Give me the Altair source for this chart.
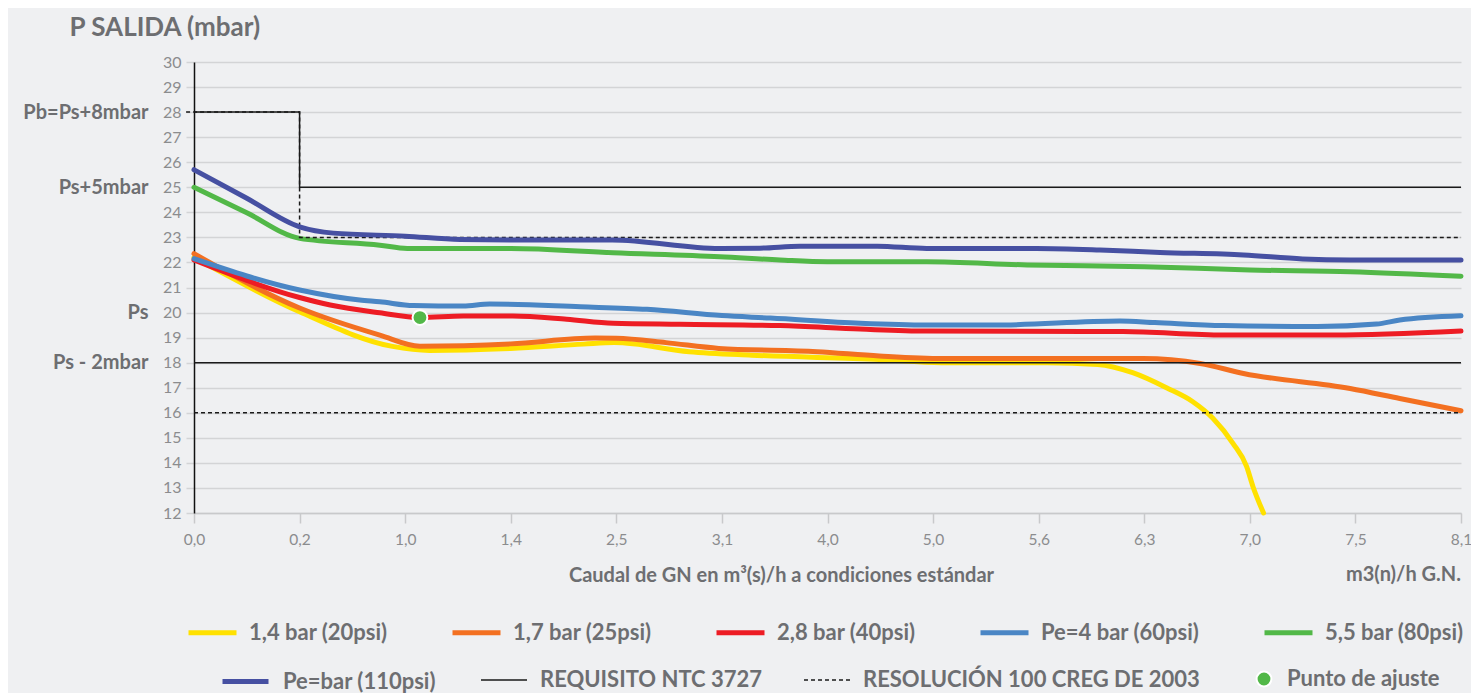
import altair as alt
import pandas as pd

# ---------------- data ----------------
X_LABELS = ["0,0", "0,2", "1,0", "1,4", "2,5", "3,1", "4,0", "5,0", "5,6", "6,3", "7,0", "7,5", "8,1"]
Y_TICKS = list(range(12, 31))
LEFT_VALUES = [28, 25, 20, 18]
LEFT_TEXT = ["Pb=Ps+8mbar", "Ps+5mbar", "Ps", "Ps - 2mbar"]

SERIES_NAMES = ["1,4 bar (20psi)", "1,7 bar (25psi)", "2,8 bar (40psi)", "Pe=4 bar (60psi)", "5,5 bar (80psi)"]
SERIES_COLORS = ["#ffe100", "#f37021", "#ed1c24", "#4a86c5", "#52b848"]

S14_X = [0, 1.0, 1.88, 2.23, 3.0, 3.69, 3.98, 4.69, 5.28, 6.49, 7.08, 8.08, 8.56, 8.89, 9.22, 9.46, 9.65, 9.84, 9.97, 10.03, 10.13]
S14_Y = [22.2, 20.03, 18.65, 18.49, 18.57, 18.74, 18.8, 18.44, 18.3, 18.13, 18.0, 18.0, 17.93, 17.6, 16.98, 16.44, 15.78, 14.78, 13.85, 13.05, 12.0]

S17_X = [0, 1.0, 1.76, 2.14, 3.0, 3.8, 4.0, 4.47, 4.97, 5.9, 6.49, 7.09, 8.99, 9.53, 9.94, 10.95, 11.42, 12]
S17_Y = [22.35, 20.18, 19.1, 18.66, 18.75, 18.98, 18.97, 18.8, 18.57, 18.44, 18.27, 18.17, 18.17, 17.97, 17.57, 16.97, 16.57, 16.08]

S28_X = [0, 1.0, 1.29, 1.76, 2.14, 2.55, 3.02, 3.53, 3.97, 4.6, 5.55, 6.31, 6.94, 8.8, 9.75, 10.8, 12]
S28_Y = [22.1, 20.6, 20.3, 19.99, 19.8, 19.86, 19.86, 19.73, 19.57, 19.53, 19.48, 19.34, 19.26, 19.24, 19.1, 19.1, 19.26]

S4_X = [0, 1.0, 1.57, 1.76, 2.08, 2.55, 2.8, 3.66, 4.29, 5.0, 5.46, 6.31, 6.94, 7.57, 8.77, 9.1, 9.75, 10.64, 11.2, 11.42, 12]
S4_Y = [22.15, 20.9, 20.5, 20.43, 20.28, 20.26, 20.34, 20.23, 20.13, 19.88, 19.78, 19.57, 19.5, 19.5, 19.66, 19.6, 19.48, 19.44, 19.54, 19.7, 19.87]

S55_X = [0, 0.5, 1.0, 1.76, 2.02, 3.0, 3.97, 4.98, 5.55, 6.0, 6.94, 7.89, 9.0, 10.0, 10.95, 12]
S55_Y = [25.0, 23.98, 22.96, 22.69, 22.56, 22.56, 22.39, 22.23, 22.1, 22.03, 22.03, 21.9, 21.83, 21.7, 21.63, 21.45]

PEBAR_NAME = "Pe=bar (110psi)"
PEBAR_COLOR = "#4650a2"
S110_X = [0, 0.5, 1.0, 1.32, 2.0, 2.52, 3.0, 3.96, 4.98, 5.36, 5.74, 6.47, 6.94, 7.98, 8.58, 9.15, 9.94, 10.5, 10.95, 12]
S110_Y = [25.7, 24.56, 23.42, 23.17, 23.05, 22.92, 22.9, 22.9, 22.56, 22.57, 22.65, 22.65, 22.56, 22.56, 22.5, 22.4, 22.3, 22.14, 22.1, 22.1]

REF_NAMES = ["REQUISITO NTC 3727", "RESOLUCIÓN 100 CREG DE 2003"]
REF_COLORS = ["#1a1a1a", "#1a1a1a"]
REF_DASH = [[1, 0], [4, 3]]
REQ_STEP_X = [0, 1, 1, 12]
REQ_STEP_Y = [28, 28, 25, 25]
REQ_MIN_X = [0, 12]
REQ_MIN_Y = [18, 18]
RES_STEP_X = [-0.075, 1, 1, 12]
RES_STEP_Y = [28, 28, 23, 23]
RES_MIN_X = [0, 12]
RES_MIN_Y = [16, 16]

PUNTO_NAME = "Punto de ajuste"
PUNTO_COLOR = "#52b848"
PUNTO_X = [2.14]
PUNTO_Y = [19.8]

UNIT_TEXT = "m3(n)/h G.N."
UNIT_X = [12]
UNIT_Y = [9.53]

# ---------------- tables ----------------
rows = []
for name, xs, ys in zip(SERIES_NAMES, [S14_X, S17_X, S28_X, S4_X, S55_X], [S14_Y, S17_Y, S28_Y, S4_Y, S55_Y]):
    for k, (x, y) in enumerate(zip(xs, ys)):
        rows.append({"serie": name, "k": k, "x": x, "y": y})
df_series = pd.DataFrame(rows)

df_pebar = pd.DataFrame({"pebar": PEBAR_NAME, "k": range(len(S110_X)), "x": S110_X, "y": S110_Y})

rows2 = []
segs = [
    (REF_NAMES[0], "req_step", REQ_STEP_X, REQ_STEP_Y),
    (REF_NAMES[0], "req_min", REQ_MIN_X, REQ_MIN_Y),
    (REF_NAMES[1], "res_step", RES_STEP_X, RES_STEP_Y),
    (REF_NAMES[1], "res_min", RES_MIN_X, RES_MIN_Y),
]
for grupo, seg, xs, ys in segs:
    for k, (x, y) in enumerate(zip(xs, ys)):
        rows2.append({"grupo": grupo, "seg": seg, "k": k, "x": x, "y": y})
df_ref = pd.DataFrame(rows2)

df_point = pd.DataFrame({"punto": [PUNTO_NAME], "x": PUNTO_X, "y": PUNTO_Y})
df_unit = pd.DataFrame({"t": [UNIT_TEXT], "x": UNIT_X, "y": UNIT_Y})
df_ghost = pd.DataFrame({"x": [0] * len(LEFT_VALUES), "y": LEFT_VALUES})

# ---------------- styling ----------------
FONT = "Lato"
DARK = "#6d6e71"
LIGHT = "#8b8c8e"
GRID = "#d3d4d6"

x_label_expr = "[" + ",".join("'%s'" % s for s in X_LABELS) + "][datum.value]"
left_vals = "[" + ",".join(str(v) for v in LEFT_VALUES) + "]"
left_txt = "[" + ",".join("'%s'" % s for s in LEFT_TEXT) + "]"
left_expr = "indexof(%s, datum.value) >= 0 ? %s[indexof(%s, datum.value)] : ''" % (left_vals, left_txt, left_vals)

xscale = alt.Scale(domain=[0, 12], nice=False, zero=False)
yscale = alt.Scale(domain=[12, 30], nice=False, zero=False)

xaxis = alt.Axis(
    values=list(range(len(X_LABELS))), labelExpr=x_label_expr, grid=False, labelFlush=False,
    domainColor="#c8c9cb", domainWidth=1.5, tickColor="#c8c9cb", tickSize=10, tickWidth=1.5,
    labelPadding=9, labelFont=FONT, labelFontSize=15.5, labelColor=LIGHT,
    title="Caudal de GN en m³(s)/h a condiciones estándar", titleFont=FONT, titleFontSize=20,
    titleFontWeight="bold", titleColor=DARK, titleX=587, titleY=62, titleBaseline="middle", titleAlign="center",
)
yaxis = alt.Axis(
    values=Y_TICKS, grid=True, gridColor=GRID, gridWidth=1.5, labelFlush=False,
    domainColor="#111111", domainWidth=1.5, tickColor=GRID, tickSize=8, tickWidth=1.5,
    labelPadding=5, labelFont=FONT, labelFontSize=16, labelColor=LIGHT,
    title="P SALIDA (mbar)", titleAngle=0, titleX=-125, titleY=-35, titleAlign="left",
    titleBaseline="middle", titleFont=FONT, titleFontSize=26, titleFontWeight="bold", titleColor=DARK,
)
ghost_axis = alt.Axis(
    orient="left", values=LEFT_VALUES, labelExpr=left_expr, grid=False, domain=False, ticks=False, tickSize=0,
    labelPadding=46, labelFont=FONT, labelFontSize=20, labelFontWeight="bold", labelColor=DARK, title=None,
    labelFlush=False,
)

X = alt.X("x:Q", scale=xscale, axis=xaxis)
Y = alt.Y("y:Q", scale=yscale, axis=yaxis)

leg_common = dict(orient="none", direction="horizontal", title=None, padding=0,
                  labelFont=FONT, labelFontSize=22, labelFontWeight="bold", labelColor=DARK, labelLimit=600)

leg_series = alt.Legend(legendX=-8, legendY=544, symbolType="stroke", symbolSize=2304, symbolStrokeWidth=5,
                        labelOffset=10, columnPadding=54, **leg_common)
leg_pebar = alt.Legend(legendX=26, legendY=594, symbolType="stroke", symbolSize=2116, symbolStrokeWidth=5,
                       labelOffset=12, **leg_common)
leg_ref = alt.Legend(legendX=286, legendY=594, symbolType="stroke", symbolSize=2116, symbolStrokeWidth=1.5,
                     labelOffset=12, columnPadding=38, **leg_common)
leg_point = alt.Legend(legendX=1059, legendY=606, symbolType="circle", symbolSize=220,
                       symbolStrokeColor="white", symbolStrokeWidth=2, symbolFillColor=PUNTO_COLOR,
                       labelOffset=12, **leg_common)

l_series = alt.Chart(df_series).mark_line(
    strokeWidth=5, strokeCap="round", strokeJoin="round", interpolate="monotone"
).encode(
    x=X, y=Y,
    color=alt.Color("serie:N", scale=alt.Scale(domain=SERIES_NAMES, range=SERIES_COLORS), legend=leg_series),
    order=alt.Order("k:Q"),
)

l_ref = alt.Chart(df_ref).mark_line(strokeWidth=1.5, strokeJoin="miter").encode(
    x=X, y=Y,
    color=alt.Color("grupo:N", scale=alt.Scale(domain=REF_NAMES, range=REF_COLORS), legend=leg_ref),
    strokeDash=alt.StrokeDash("grupo:N", scale=alt.Scale(domain=REF_NAMES, range=REF_DASH), legend=leg_ref),
    detail="seg:N",
    order=alt.Order("k:Q"),
)

l_pebar = alt.Chart(df_pebar).mark_line(
    strokeWidth=5, strokeCap="round", strokeJoin="round", interpolate="monotone"
).encode(
    x=X, y=Y,
    color=alt.Color("pebar:N", scale=alt.Scale(domain=[PEBAR_NAME], range=[PEBAR_COLOR]), legend=leg_pebar),
    order=alt.Order("k:Q"),
)

l_point = alt.Chart(df_point).mark_point(filled=True, size=220, strokeWidth=2, opacity=1).encode(
    x=X, y=Y,
    color=alt.Color("punto:N", scale=alt.Scale(domain=[PUNTO_NAME], range=[PUNTO_COLOR]), legend=leg_point),
    stroke=alt.value("white"),
)

l_unit = alt.Chart(df_unit).mark_text(
    align="right", baseline="middle", font=FONT, fontSize=20, fontWeight="bold", color=DARK
).encode(x=X, y=Y, text="t:N")

main = alt.layer(l_series, l_ref, l_pebar, l_point, l_unit).resolve_scale(
    color="independent", strokeDash="independent"
)

l_ghost = alt.Chart(df_ghost).mark_point(opacity=0).encode(
    x=X, y=alt.Y("y:Q", scale=yscale, axis=ghost_axis)
)

chart = alt.layer(main, l_ghost).resolve_scale(y="independent").properties(
    width=1267, height=451,
    autosize=alt.AutoSizeParams(type="none"),
    padding={"left": 186, "top": 54, "right": 10, "bottom": 185},
    background="#eff0f2",
).configure_view(strokeWidth=0)

chart.save("out.html", embed_options={"renderer": "svg", "actions": False})
